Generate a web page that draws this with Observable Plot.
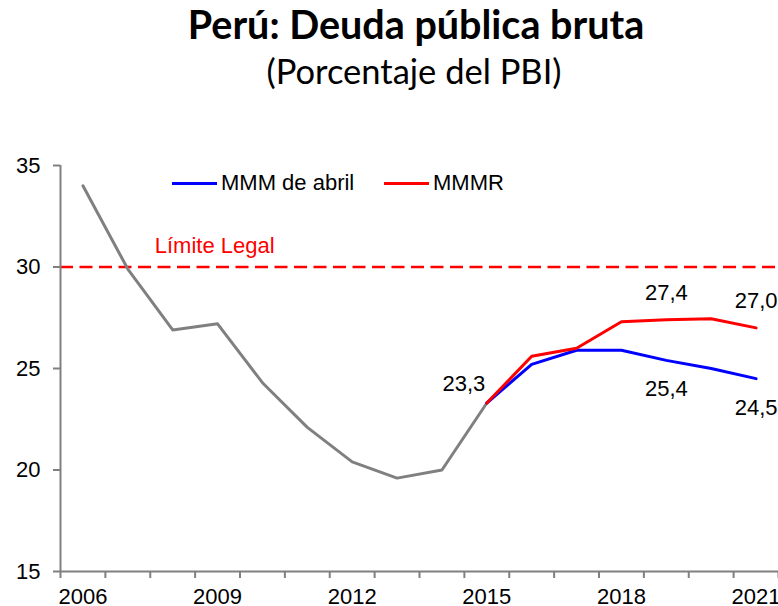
<!DOCTYPE html>
<html><head><meta charset="utf-8">
<script src="https://cdn.jsdelivr.net/npm/d3@7"></script>
<script src="https://cdn.jsdelivr.net/npm/@observablehq/plot@0.6"></script>
<style>
body{margin:0;background:#fff;}
#wrap{position:relative;width:778px;height:606px;overflow:hidden;font-family:"Liberation Sans",Arial,sans-serif;background:#fff;}
#title{position:absolute;left:0;width:832px;top:4px;text-align:center;font-family:Lato,sans-serif;font-weight:bold;font-size:39.5px;line-height:39.5px;color:#000;white-space:nowrap;}
#subtitle{position:absolute;left:0;width:828px;top:54px;text-align:center;font-family:Lato,sans-serif;font-size:34.5px;line-height:34.5px;color:#000;white-space:nowrap;}
#chart{position:absolute;left:0;top:110px;}
.leg{position:absolute;top:171px;height:24px;display:flex;align-items:center;font-size:22px;color:#000;white-space:nowrap;}
.leg span.sw{display:inline-block;width:45px;height:3px;margin-right:4px;}
</style>
</head><body>
<div id="wrap">
  <div id="title"></div>
  <div id="subtitle"></div>
  <div id="chart"></div>
  <div class="leg" id="leg1" style="left:172px"><span class="sw" style="background:#0000ff"></span><span class="lt"></span></div>
  <div class="leg" id="leg2" style="left:384px"><span class="sw" style="background:#ff0000"></span><span class="lt"></span></div>
</div>
<script>
const titleText = "Perú: Deuda pública bruta";
const subtitleText = "(Porcentaje del PBI)";
const seriesNames = ["MMM de abril", "MMMR"];
const limitText = "Límite Legal";

const histYears = [2006, 2007, 2008, 2009, 2010, 2011, 2012, 2013, 2014, 2015];
const histValues = [34.0, 29.9, 26.9, 27.2, 24.3, 22.1, 20.4, 19.6, 20.0, 23.3];
const projYears = [2015, 2016, 2017, 2018, 2019, 2020, 2021];
const mmmAbril = [23.3, 25.2, 25.9, 25.9, 25.4, 25.0, 24.5];
const mmmr = [23.3, 25.6, 26.0, 27.3, 27.4, 27.45, 27.0];
const legalLimit = 30;
const yTicks = [15, 20, 25, 30, 35];
const xLabelYears = [2006, 2009, 2012, 2015, 2018, 2021];

document.getElementById("title").textContent = titleText;
document.getElementById("subtitle").textContent = subtitleText;
document.querySelector("#leg1 .lt").textContent = seriesNames[0];
document.querySelector("#leg2 .lt").textContent = seriesNames[1];

const hist = histYears.map((y, i) => ({year: y, value: histValues[i]}));
const abril = projYears.map((y, i) => ({year: y, value: mmmAbril[i]}));
const rev = projYears.map((y, i) => ({year: y, value: mmmr[i]}));
const fmt = v => v.toFixed(1).replace(".", ",");

const startLabel = [hist[hist.length - 1]];
const aboveLabels = [rev[4], rev[6]];
const belowLabels = [abril[4], abril[6]];

const xDomain = [histYears[0] - 0.5, projYears[projYears.length - 1] + 0.5];
const boundaries = d3.range(xDomain[0], xDomain[1] + 0.01, 1);
const gray = "#808080";

const plot = Plot.plot({
  width: 778,
  height: 496,
  marginLeft: 60,
  marginRight: 0,
  marginTop: 55,
  marginBottom: 35,
  style: {fontFamily: "'Liberation Sans', Arial, sans-serif", fontSize: "22px", background: "transparent", overflow: "visible"},
  x: {type: "linear", domain: xDomain},
  y: {domain: [15, 35]},
  marks: [
    Plot.ruleY([legalLimit], {stroke: "#ff0000", strokeWidth: 2.5, strokeDasharray: "13,6.5"}),
    Plot.text([legalLimit], {x: () => 2007.6, y: d => d, text: () => limitText, dy: -21, textAnchor: "start", fill: "#ff0000", fontSize: 22}),
    Plot.line(hist, {x: "year", y: "value", stroke: gray, strokeWidth: 3}),
    Plot.line(abril, {x: "year", y: "value", stroke: "#0000ff", strokeWidth: 3}),
    Plot.line(rev, {x: "year", y: "value", stroke: "#ff0000", strokeWidth: 3}),
    Plot.text(startLabel, {x: "year", y: "value", text: d => fmt(d.value), dx: -23, dy: -19, fill: "#000", fontSize: 22}),
    Plot.text(aboveLabels, {x: "year", y: "value", text: d => fmt(d.value), dy: -27, fill: "#000", fontSize: 22}),
    Plot.text(belowLabels, {x: "year", y: "value", text: d => fmt(d.value), dy: 29, fill: "#000", fontSize: 22}),
    Plot.ruleX([xDomain[0]], {stroke: gray, strokeWidth: 2}),
    Plot.ruleY([15], {stroke: gray, strokeWidth: 2}),
    Plot.axisY({ticks: yTicks, tickSize: 7, tickPadding: 13, stroke: gray, strokeWidth: 2, fill: "#000", fontSize: 22, label: null}),
    Plot.axisX({ticks: boundaries, tickSize: 7, tickFormat: () => "", stroke: gray, strokeWidth: 2, label: null}),
    Plot.axisX({ticks: xLabelYears, tickSize: 0, tickPadding: 17, tickFormat: d => String(d), fill: "#000", fontSize: 22, label: null})
  ]
});
document.getElementById("chart").appendChild(plot);
</script>
</body></html>
